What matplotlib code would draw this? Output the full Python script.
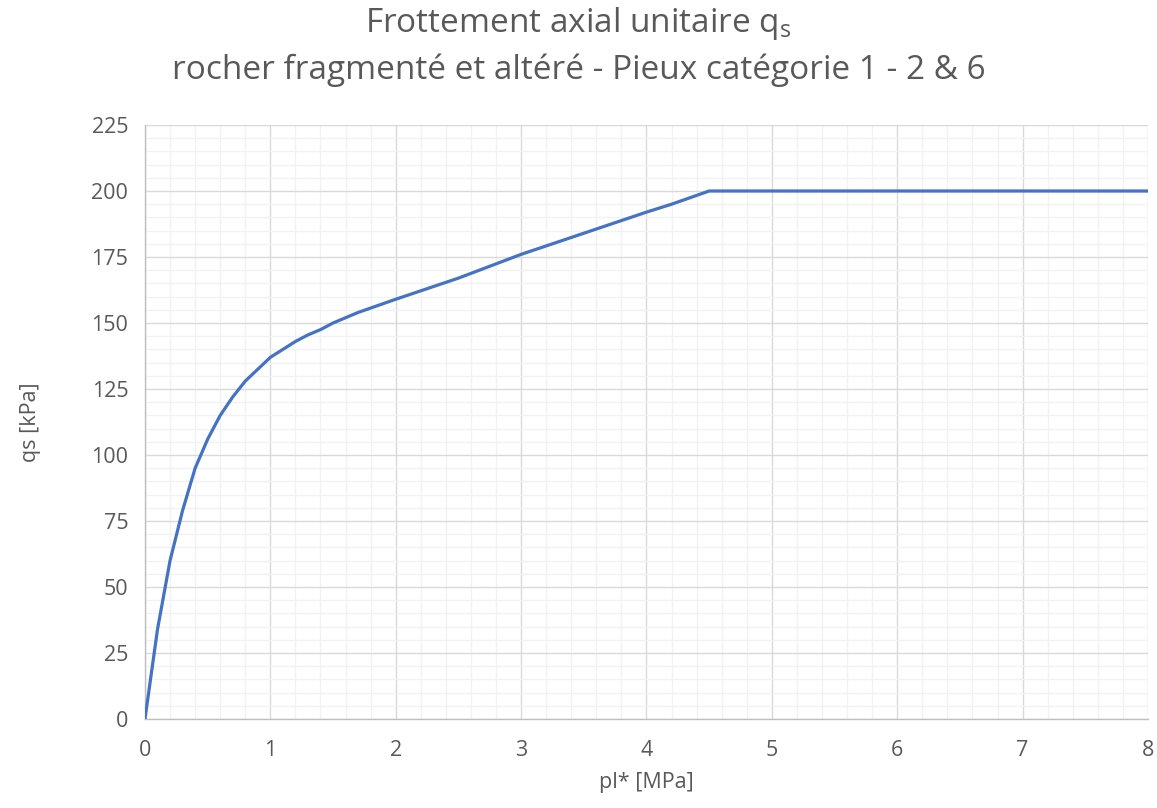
import matplotlib
matplotlib.use("Agg")
import matplotlib.pyplot as plt
from matplotlib.ticker import MultipleLocator

# pl* [MPa] vs qs [kPa]
pl = [0.0, 0.1, 0.2, 0.3, 0.4, 0.5, 0.6, 0.7, 0.8, 0.9, 1.0, 1.1, 1.2, 1.3,
      1.4, 1.5, 1.7, 2.0, 2.5, 3.0, 3.5, 4.0, 4.2, 4.5, 8.0]
qs = [0, 34, 60, 79, 95, 106, 115, 122, 128, 132.5, 137, 140, 143, 145.5,
      147.5, 150, 154, 159, 167, 176, 184, 192, 195, 200, 200]

TEXT = "#595959"

plt.rcParams["font.family"] = ["Open Sans", "DejaVu Sans"]

fig = plt.figure(figsize=(11.57, 8.08), dpi=100)
ax = fig.add_axes([0.1253, 0.1101, 0.8669, 0.7352])

ax.plot(pl, qs, color="#4472C4", linewidth=2.3, solid_joinstyle="round", zorder=3)

ax.set_xlim(0, 8)
ax.set_ylim(0, 225)
ax.xaxis.set_major_locator(MultipleLocator(1))
ax.xaxis.set_minor_locator(MultipleLocator(0.2))
ax.yaxis.set_major_locator(MultipleLocator(25))
ax.yaxis.set_minor_locator(MultipleLocator(5))
ax.grid(which="minor", color="#F2F2F2", linewidth=1.0)
ax.grid(which="major", color="#D9D9D9", linewidth=1.0)
ax.set_axisbelow(True)

for side in ("top", "right"):
    ax.spines[side].set_visible(False)
for side in ("left", "bottom"):
    ax.spines[side].set_color("#BFBFBF")
    ax.spines[side].set_linewidth(1.0)

ax.tick_params(which="both", length=0, labelsize=15.5, colors=TEXT)
ax.tick_params(axis="x", pad=15)
ax.tick_params(axis="y", pad=12)

ax.set_xlabel("pl* [MPa]", fontsize=15.5, color=TEXT, labelpad=8)
ax.set_ylabel("qs [kPa]", fontsize=15.5, color=TEXT, labelpad=36)

fig.text(0.5, 0.960, r"Frottement axial unitaire q$_\mathregular{s}$", ha="center",
         va="baseline", fontsize=24, color=TEXT)
fig.text(0.5, 0.902, "rocher fragmenté et altéré - Pieux catégorie 1 - 2 & 6",
         ha="center", va="baseline", fontsize=24, color=TEXT)

fig.savefig("out.png", dpi=100)
